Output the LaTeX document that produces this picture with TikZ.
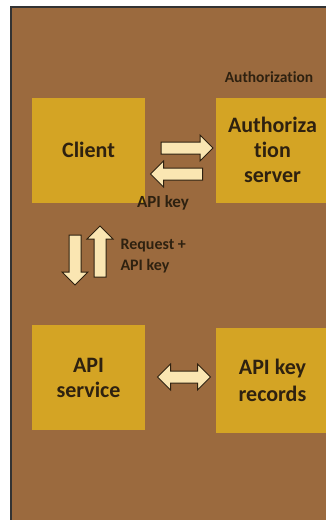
\documentclass[tikz,border=0pt]{standalone}
\usepackage{fontspec}
\setmainfont{Carlito}[Ligatures=NoCommon]
\usetikzlibrary{shapes.arrows}
\definecolor{panel}{HTML}{9B6A3E}
\definecolor{boxfill}{HTML}{D4A424}
\definecolor{arrowfill}{HTML}{FAE6B2}
\definecolor{ink}{HTML}{2E2110}
\begin{document}
\begin{tikzpicture}[
                x=1pt,y=-1pt,
                every node/.append style={text=ink},
                block/.style={fill=boxfill,minimum width=113pt,minimum height=105pt,inner sep=0pt,
                    align=center,font=\bfseries\fontsize{22}{25}\selectfont},
                fat/.style={single arrow,draw=ink,fill=arrowfill,line width=1pt,inner sep=5.5pt,
                    single arrow head extend=7pt,minimum height=#1},
                both/.style={double arrow,draw=ink,fill=arrowfill,line width=1pt,inner sep=5.5pt,
                    double arrow head extend=7pt,minimum height=#1},
                tag/.style={font=\bfseries\fontsize{16}{21}\selectfont,align=left}
            ]
                \useasboundingbox (0,0) rectangle (326,520);
                \fill[white] (0,0) rectangle (326,520);
                \filldraw[fill=panel,draw=black!80,line width=1.5pt] (11,7) rectangle (334,528);

                \node[block] (client) at (88.5,150) {Client};
                \node[block] (auth) at (272.5,150) {Authoriza\\tion\\server};
                \node[block] (service) at (88.5,377.5) {API\\service};
                \node[block,font=\bfseries\fontsize{22}{27}\selectfont] (records) at (272.5,380.5) {API key\\records};

                \node[font=\bfseries\fontsize{15.5}{18}\selectfont] (authtitle) at (269,77) {Authorization};

                \node[fat=52pt] (req) at (184,148) {};
                \node[fat=52pt,shape border rotate=180] (key) at (179.5,174) {};
                \node[font=\bfseries\fontsize{17}{19}\selectfont] (keylabel) at (163,203) {API key};

                \node[fat=50pt,shape border rotate=270] (down) at (75,257) {};
                \node[fat=51pt,shape border rotate=90] (up) at (100,254.5) {};
                \node[tag,anchor=west] (reqlabel) at (117,256) {Request +\\API key};

                \node[both=53pt] (lookup) at (184,377) {};
            \end{tikzpicture}
\end{document}
